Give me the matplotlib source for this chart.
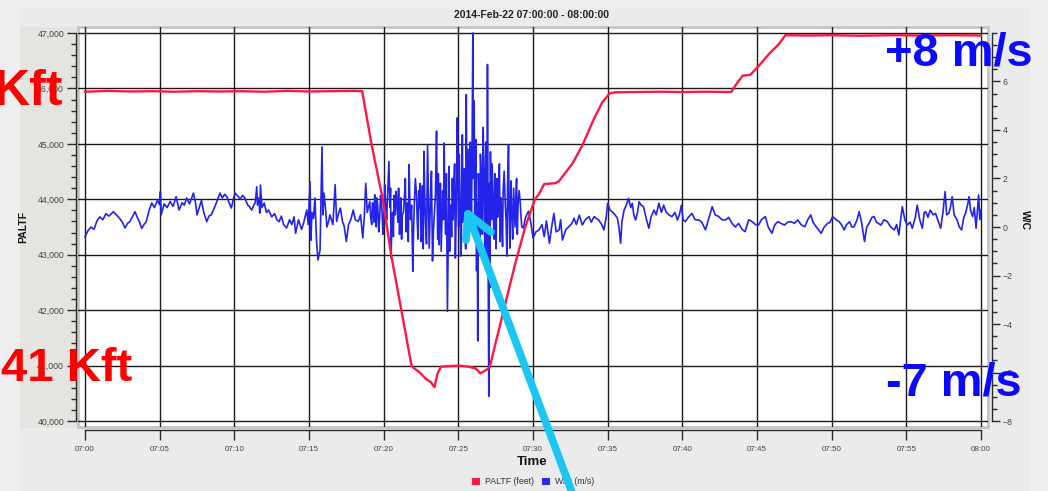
import matplotlib
matplotlib.use("Agg")
import matplotlib.pyplot as plt
from matplotlib.patches import Patch, Rectangle
from matplotlib.lines import Line2D

plt.rcParams['font.family'] = ['Liberation Sans', 'DejaVu Sans']

# ---------------- data ----------------
title = "2014-Feb-22 07:00:00 - 08:00:00"
tick_minutes = [0, 5, 10, 15, 20, 25, 30, 35, 40, 45, 50, 55, 60]
tick_labels = ["07:00", "07:05", "07:10", "07:15", "07:20", "07:25", "07:30",
               "07:35", "07:40", "07:45", "07:50", "07:55", "08:00"]
paltf_ticks = [40000, 41000, 42000, 43000, 44000, 45000, 46000, 47000]
paltf_tick_labels = ["40,000", "41,000", "42,000", "43,000", "44,000", "45,000", "46,000", "47,000"]
wc_ticks = [-8, -6, -4, -2, 0, 2, 4, 6]

# PALTF (feet) vs minutes after 07:00
paltf_t = [0, 1.5, 3, 4.5, 6, 7.5, 9, 10.5, 12, 13.5, 15, 16.5, 18, 18.56,
           19.18, 19.96, 20.5, 21.17, 21.84, 21.95, 22.4, 22.83, 23.16, 23.4,
           23.6, 23.83, 24.38, 25.04, 25.7, 26.15, 26.48, 26.92, 27.1, 27.48,
           28.14, 28.8, 29.47, 30.13, 30.41, 30.75, 31.5, 31.75, 32.64, 33.3,
           34.08, 34.64, 35.13, 35.5, 37, 38.5, 40, 41.5, 43.28, 43.55, 44.04,
           44.55, 45.1, 45.78, 46.45, 46.9, 48.5, 50, 52, 54, 56, 58, 60]
paltf_ft = [45940, 45955, 45945, 45950, 45940, 45950, 45945, 45950, 45940,
            45955, 45945, 45950, 45955, 45950, 45000, 43970, 43000, 42020,
            41030, 40970, 40880, 40760, 40700, 40610, 40850, 40980, 40990,
            41000, 40980, 40950, 40860, 40930, 40970, 41390, 42110, 42830,
            43490, 44000, 44100, 44275, 44290, 44330, 44645, 44970, 45450,
            45750, 45910, 45930, 45935, 45940, 45935, 45940, 45935, 46050,
            46230, 46245, 46400, 46615, 46795, 46960, 46955, 46960, 46950,
            46960, 46955, 46960, 46955]

# W/C (m/s) vs minutes after 07:00 (main readings)
wc_t = [0.0, 0.2, 0.4, 0.6, 0.8, 1.0, 1.2, 1.4, 1.6, 1.9, 2.1, 2.3, 2.5, 2.68,
        2.85, 3.0, 3.2, 3.35, 3.5, 3.65, 3.8, 3.95, 4.1, 4.3, 4.47, 4.65, 4.85,
        5.0, 5.05, 5.1, 5.3, 5.5, 5.7, 5.9, 6.1, 6.3, 6.5, 6.65, 6.81, 7.0,
        7.26, 7.4, 7.5, 7.65, 7.8, 7.95, 8.15, 8.3, 8.45, 8.6, 8.8, 9.04, 9.2,
        9.35, 9.5, 9.65, 9.8, 9.95, 10.05, 10.2, 10.4, 10.55, 10.7, 10.9, 11.0,
        11.16, 11.3, 11.4, 11.5, 11.55, 11.65, 11.7, 11.75, 11.85, 12.0, 12.15,
        12.3, 12.5, 12.7, 12.85, 13.0, 13.15, 13.3, 13.5, 13.7, 13.85, 14.0,
        14.1, 14.3, 14.5, 14.65, 14.85, 14.95, 15.07, 15.12, 15.2, 15.3, 15.4,
        15.5, 15.6, 15.74, 15.8, 15.87, 15.93, 16.0, 16.1, 16.2, 16.3,
        16.4, 16.6, 16.75, 16.85, 17.0, 17.1, 17.25, 17.35, 17.5, 17.65, 17.8,
        17.96, 18.1, 18.3, 18.45, 18.6, 18.7, 18.8, 18.9, 19.07, 19.2, 19.3,
        19.4, 19.5, 19.6, 19.73, 19.85, 19.95, 20.07, 20.2, 20.35, 20.42, 20.5,
        20.6, 20.7, 20.84, 20.95, 21.06, 21.15, 21.25, 21.4, 21.5, 21.6, 21.7,
        21.8, 21.95, 22.05, 22.2, 22.3, 22.4, 22.5, 22.6, 22.7, 22.8, 22.94,
        23.05, 23.15, 23.27, 23.4, 23.54, 23.62, 23.7, 23.8, 23.9, 24.05, 24.15,
        24.27, 24.35, 24.42, 24.5, 24.6, 24.7, 24.8, 24.93, 25.02, 25.1, 25.2,
        25.27, 25.35, 25.45, 25.53, 25.6, 25.7, 25.8, 25.88, 25.97, 26.02,
        26.06, 26.15, 26.22, 26.3, 26.38, 26.48, 26.56, 26.66, 26.74, 26.8,
        26.88, 26.95, 27.0, 27.04, 27.1, 27.15, 27.22, 27.3, 27.4, 27.48, 27.58,
        27.7, 27.8, 27.92, 28.0, 28.14, 28.25, 28.36, 28.45, 28.58, 28.7, 28.8,
        28.9, 29.0, 29.14, 29.25, 29.36, 29.5, 29.7, 29.85, 30.0, 30.2,
        30.4, 30.6, 30.75, 30.9, 31.1, 31.25, 31.4, 31.55, 31.75, 31.85, 31.97,
        32.2, 32.4, 32.6, 32.75, 32.9, 33.1, 33.3, 33.5, 33.75, 33.9, 34.1,
        34.25, 34.4, 34.6, 34.75, 34.9, 35.0, 35.15, 35.3, 35.5, 35.65, 35.75,
        35.87, 35.95, 36.1, 36.25, 36.4, 36.55, 36.65, 36.75, 36.87, 37.0, 37.1,
        37.25, 37.4, 37.6, 37.76, 37.9, 38.1, 38.25, 38.43, 38.6, 38.75, 38.9,
        39.1, 39.3, 39.5, 39.67, 39.8, 39.94, 40.05, 40.2, 40.4, 40.65, 40.85,
        41.1, 41.3, 41.55, 41.75, 42.0, 42.2, 42.44, 42.65, 42.9, 43.1, 43.33,
        43.55, 43.77, 44.0, 44.2, 44.45, 44.67, 44.9, 45.1, 45.3, 45.56, 45.75,
        46.0, 46.2, 46.4, 46.6, 46.84, 47.05, 47.3, 47.5, 47.73, 47.95, 48.2,
        48.4, 48.6, 48.75, 48.96, 49.1, 49.3, 49.5, 49.73, 49.9, 50.07, 50.3,
        50.5, 50.65, 50.84, 51.0, 51.2, 51.35, 51.5, 51.7, 51.84, 52.0, 52.2,
        52.35, 52.5, 52.7, 52.84, 53.0, 53.3, 53.5, 53.73, 53.95, 54.2, 54.35,
        54.5, 54.6, 54.73, 54.9, 55.07, 55.25, 55.4, 55.6, 55.73, 55.9, 56.07,
        56.2, 56.3, 56.45, 56.6, 56.8, 56.96, 57.1, 57.3, 57.45, 57.6, 57.7,
        57.84, 57.95, 58.07, 58.2, 58.4, 58.55, 58.7, 58.85, 58.96, 59.1, 59.2,
        59.3, 59.44, 59.55, 59.67, 59.75, 59.84, 59.92, 60.0]
wc_ms = [-0.40, -0.15, 0.0, -0.1, 0.25, 0.42, 0.3, 0.55, 0.45, 0.63, 0.5, 0.37,
         0.2, -0.04, 0.15, 0.22, 0.45, 0.63, 0.4, 0.2, -0.06, 0.1, 0.22, 0.7,
         0.99, 0.8, 1.1, 0.91, 1.46, 0.5, 0.95, 0.8, 1.05, 0.85, 1.25, 0.7, 1.0,
         0.9, 1.2, 0.95, 1.4, 1.0, 0.5, 0.8, 1.1, 0.6, 0.22, 0.45, 0.5, 0.7, 1.0,
         1.4, 1.2, 1.35, 1.25, 1.0, 0.78, 1.2, 1.4, 1.3, 1.15, 1.3, 1.2, 0.9,
         0.85, 0.7, 0.9, 1.0, 1.66, 0.9, 1.2, 0.57, 1.73, 0.8, 0.99, 0.6, 0.7,
         0.42, 0.55, 0.3, 0.22, 0.45, 0.1, -0.04, 0.3, 0.1, 0.42, -0.26, 0.3,
         -0.1, 0.2, 0.7, 0.1, 1.87, -0.55, 0.6, 0.35, 1.2, -0.55, -1.36, -0.95,
         1.1, 3.3, 0.5, 1.4, 0.8, 0.0, 0.2,
         0.5, 0.1, 1.75, 0.23, 0.6, 0.78, 0.2, 0.05, -0.6, 0.1, 0.3, 0.7, 0.3,
         0.23, 0.5, -0.45, 0.4, 1.8, 0.6, 1.06, 0.1, 0.8, 1.33, 0.0, 0.9, 0.37,
         1.1, -0.3, 1.75, 0.3, 2.7, 0.8, -1.28, 0.6, 1.3, 1.47, 0.2, -0.3, 1.2,
         0.5, 1.33, -0.2, 1.0, 2.57, 0.3, -1.83, 0.9, 1.33, -0.5, 0.8, -0.6, 1.7,
         3.12, 0.2, 3.4, -0.87, 1.5, -1.4, 0.6, 3.95, -0.5, -0.73, 1.8, 0.2,
         3.46, -0.3, -3.48, 1.2, -1.0, 0.9, 2.0, 1.7, -1.28, 4.5, 0.0, 1.6, -0.8,
         3.8, 1.0, 0.4, 5.46, -0.45, 1.6, 3.5, 0.5, 8.0, 2.0, 5.2, 1.3, -1.8,
         -4.7, 1.5, 3.0, 0.5, 4.1, 1.0, 0.5, 2.5, 6.7, -2.0, -6.98, -1.0, 3.1,
         0.3, 1.6, -0.5, 0.0, 2.0, 1.5, -0.6, 0.1, 1.5, 1.0, -1.2, 3.4, -0.87,
         0.5, 1.6, 0.0, 2.0, 0.9, 1.06, 0.0, -0.04, 0.4, 0.65, 0.2, -0.45, -0.2,
         -0.12, 0.1, -0.4, 0.25, -0.67, 0.0, 0.56, -0.2, -0.12, 0.3, -0.54, -0.1,
         0.01, 0.15, 0.36, 0.1, 0.49, 0.08, 0.3, 0.43, 0.2, 0.43, 0.35, 0.29, 0.1,
         -0.12, 0.4, 0.98, 0.7, 0.63, 0.5, 0.36, 0.0, -0.67, 0.2, 0.7, 0.9, 1.18,
         0.8, 0.98, 0.5, 0.29, 0.6, 1.04, 0.9, 0.84, 0.3, -0.05, 0.4, 0.70, 0.5,
         0.98, 0.6, 0.9, 0.63, 0.5, 0.43, 0.6, 0.29, 0.5, 0.9, 0.3, 0.22, 0.4,
         0.56, 0.3, 0.29, 0.2, -0.12, 0.3, 0.84, 0.5, 0.43, 0.3, 0.29, 0.4, 0.15,
         0.0, 0.15, -0.1, -0.19, 0.3, 0.22, 0.1, 0.08, 0.3, 0.43, 0.0, -0.26,
         0.1, 0.22, 0.15, 0.08, 0.2, 0.22, 0.15, 0.29, 0.1, 0.01, 0.3, 0.5, 0.2,
         0.01, -0.1, -0.26, 0.0, 0.15, 0.2, 0.43, 0.3, 0.22, 0.1, -0.12, 0.1,
         0.22, 0.0, 0.01, 0.3, 0.63, 0.2, -0.6, 0.0, 0.15, 0.4, 0.43, 0.2, 0.08,
         0.3, 0.22, 0.0, -0.12, 0.1, -0.33, 0.2, 0.84, 0.3, 0.08, 0.2, -0.05, 0.4,
         0.9, 0.3, -0.05, 0.6, 0.63, 0.4, 0.70, 0.5, 0.56, 0.3, -0.05, 0.6, 1.46,
         0.5, 0.56, 0.8, 1.25, 0.5, 0.29, 0.0, -0.12, 0.4, 0.56, 0.9, 1.25, 0.7,
         0.43, 0.8, -0.05, 0.6, 1.32, 0.3, 0.7]

# W/C extra readings inside the turbulent stretch (07:19 - 07:29)
wc_t_extra = [19.13, 19.25, 19.35, 19.45, 19.55, 19.67, 19.79, 19.9, 20.01,
              20.13, 20.27, 20.46, 20.55, 20.65, 20.77, 20.9, 21.0, 21.1, 21.2,
              21.32, 21.45, 21.55, 21.65, 21.75, 21.87, 22.0, 22.12, 22.25,
              22.35, 22.45, 22.55, 22.65, 22.75, 22.87, 23.0, 23.1, 23.2, 23.33,
              23.47, 23.58, 23.66, 23.75, 23.85, 23.95, 24.0, 24.1, 24.2, 24.31,
              24.38, 24.46, 24.55, 24.65, 24.75, 24.86, 24.97, 25.06, 25.15,
              25.23, 25.31, 25.4, 25.49, 25.57, 25.65, 25.75, 25.84, 25.92,
              26.1, 26.18, 26.26, 26.34, 26.43, 26.52, 26.61, 26.7, 26.77,
              26.84, 26.92, 27.07, 27.12, 27.18, 27.26, 27.35, 27.44, 27.53,
              27.63, 27.75, 27.86, 27.96, 28.07, 28.2, 28.3, 28.4, 28.52, 28.64,
              28.75, 28.85, 28.95, 29.07, 29.2]
wc_ms_extra = [0.4, 1.0, 0.2, 0.9, 1.2, -0.2, 1.3, 0.5, 0.4, 0.9, 1.4, 1.6, 0.3,
               -0.4, 0.5, 0.9, 1.6, 0.3, -0.5, 0.6, 2.0, 0.7, -0.6, 1.2, 0.9,
               -0.2, 2.0, 0.2, 1.5, 1.8, 0.3, -0.9, 1.4, -0.7, 1.2, 0.3, 2.3,
               -0.2, 1.4, 1.2, 2.2, 0.9, -1.0, 1.5, 0.3, 1.0, 2.2, -1.2, 2.5,
               0.1, -0.4, 0.3, 2.6, 0.7, 2.3, 3.0, -1.2, 1.8, 0.2, 2.4, -0.9,
               2.2, 3.2, -0.2, 1.8, 3.0, -0.3, 3.6, 1.0, 2.2, -0.8, 2.4, -0.3,
               2.8, -1.0, 3.5, -1.5, 1.8, -2.5, 1.0, 2.6, 0.4, 2.2, -0.9, 0.4,
               2.6, 1.2, -0.8, 2.3, 0.2, 1.8, 0.6, 1.9, -0.5, 0.8, 1.2, -0.3,
               1.5, 0.4]

# ---------------- figure ----------------
W, H = 1048, 491
fig = plt.figure(figsize=(W / 100, H / 100), dpi=100, facecolor='#efeff1')

def fx(px):
    return px / W

def fy(py):
    return 1 - py / H

# background panels
fig.patches.append(Rectangle((fx(20), fy(491)), fx(1010), 483 / H,
                             transform=fig.transFigure, facecolor='#ebebeb',
                             edgecolor='none', zorder=0))
fig.patches.append(Rectangle((fx(20), fy(428)), fx(58), 401 / H,
                             transform=fig.transFigure, facecolor='#e5e4e1',
                             edgecolor='none', zorder=0))

pos = [fx(78), fy(427), 910 / W, 400 / H]
ax = fig.add_axes(pos)
ax.set_facecolor('white')
ax2 = ax.twinx()
ax3 = fig.add_axes(pos, sharex=ax, sharey=ax)
ax.set_zorder(1)
ax2.set_zorder(2)
ax3.set_zorder(3)
ax2.patch.set_visible(False)
ax3.patch.set_visible(False)
ax3.axis('off')

ax.set_xlim(-0.469, 60.469)
ax.set_ylim(39892, 47108)
ax2.set_ylim(-8.247, 8.247)

# grid / ticks
ax.set_xticks(tick_minutes)
ax.set_xticklabels(tick_labels)
ax.set_yticks(paltf_ticks)
ax.set_yticklabels(paltf_tick_labels)
ax.set_yticks([v for v in range(40000, 47001, 200)], minor=True)
ax.grid(True, which='major', color='#1a1a1a', linewidth=1.0)
ax.set_axisbelow(True)

ax2.set_yticks(wc_ticks)
ax2.set_yticks([v / 2 for v in range(-16, 17)], minor=True)

# series
wc_pairs = sorted(zip(wc_t + wc_t_extra, wc_ms + wc_ms_extra))
ax2.plot([p[0] for p in wc_pairs], [p[1] for p in wc_pairs],
         color='#2323ea', linewidth=1.2)
ax3.plot(paltf_t, paltf_ft, color='#ff1744', linewidth=1.7)

# spines / ticks
for s in ['top', 'right', 'left', 'bottom']:
    ax.spines[s].set_visible(False)
    ax2.spines[s].set_visible(False)
ax.spines['left'].set_visible(True)
ax.spines['left'].set_position(('outward', 1.5))
ax.spines['left'].set_bounds(40000, 47000)
ax.spines['bottom'].set_visible(True)
ax.spines['bottom'].set_position(('outward', 2.5))
ax.spines['bottom'].set_bounds(0, 60)
ax2.spines['right'].set_visible(True)
ax2.spines['right'].set_position(('outward', 3))
ax2.spines['right'].set_bounds(-8, 8)
for sp in [ax.spines['left'], ax.spines['bottom'], ax2.spines['right']]:
    sp.set_color('#2a2a2a')
    sp.set_linewidth(1.0)

ax.tick_params(axis='y', which='major', length=6.5, width=1, color='#2a2a2a',
               labelsize=6.3, labelcolor='#444444', pad=2)
ax.tick_params(axis='y', which='minor', length=3.6, width=1, color='#2a2a2a')
ax.tick_params(axis='x', which='major', length=7, width=1, color='#2a2a2a',
               labelsize=5.8, labelcolor='#444444', pad=4)
ax2.tick_params(axis='y', which='major', length=5.5, width=1, color='#2a2a2a',
                labelsize=6.3, labelcolor='#444444', pad=2)
ax2.tick_params(axis='y', which='minor', length=3.6, width=1, color='#2a2a2a')

# frame around the plot area
ax.add_patch(Rectangle((0, 0), 1, 1, transform=ax.transAxes, fill=False,
                       edgecolor='#c4c4c4', linewidth=2.0, clip_on=False, zorder=0.5))

# labels
fig.text(fx(532), fy(15), title, ha='center', va='center', fontsize=7.5,
         fontweight='bold', color='#222222')
fig.text(fx(532), fy(462), "Time", ha='center', va='center', fontsize=9.5,
         fontweight='bold', color='#111111')
fig.text(fx(23), fy(227), "PALTF", ha='center', va='center', rotation=90,
         fontsize=7.5, fontweight='bold', color='#111111')
fig.text(fx(1025), fy(220), "W/C", ha='center', va='center', rotation=-90,
         fontsize=7.5, fontweight='bold', color='#111111')

handles = [Patch(facecolor='#ff1744', edgecolor='none'),
           Patch(facecolor='#2a2aff', edgecolor='none')]
fig.legend(handles, ["PALTF (feet)", "W/C (m/s)"], loc='center',
           bbox_to_anchor=(fx(533), fy(482)), ncol=2, frameon=False,
           fontsize=6.3, handlelength=0.9, handleheight=0.9,
           columnspacing=0.9, handletextpad=0.6, labelcolor='#333333')

# overlay annotations
fig.text(fx(63), fy(105), "Kft", ha='right', va='baseline', fontsize=36,
         fontweight='bold', color='#ff0000', zorder=10)
fig.text(fx(50), fy(-2.5), "Kft", ha='right', va='baseline', fontsize=36,
         fontweight='bold', color='#ff0000', zorder=10)
fig.text(fx(1), fy(381), "41 Kft", ha='left', va='baseline', fontsize=34,
         fontweight='bold', color='#ff0000', zorder=10)
fig.text(fx(885), fy(65), "+8 m/s", ha='left', va='baseline', fontsize=33.8,
         fontweight='bold', color='#0a0aff', zorder=10)
fig.text(fx(886), fy(395), "-7 m/s", ha='left', va='baseline', fontsize=33.8,
         fontweight='bold', color='#0a0aff', zorder=10)

# cyan arrow
cyan = '#1cc6f2'
for (x0, y0, x1, y1) in [(573, 495, 468, 214), (468, 214, 466, 240),
                         (468, 214, 491, 232)]:
    fig.add_artist(Line2D([fx(x0), fx(x1)], [fy(y0), fy(y1)],
                          transform=fig.transFigure, color=cyan,
                          linewidth=5.6, solid_capstyle='round', zorder=11))

fig.savefig("out.png", dpi=100, facecolor=fig.get_facecolor())
